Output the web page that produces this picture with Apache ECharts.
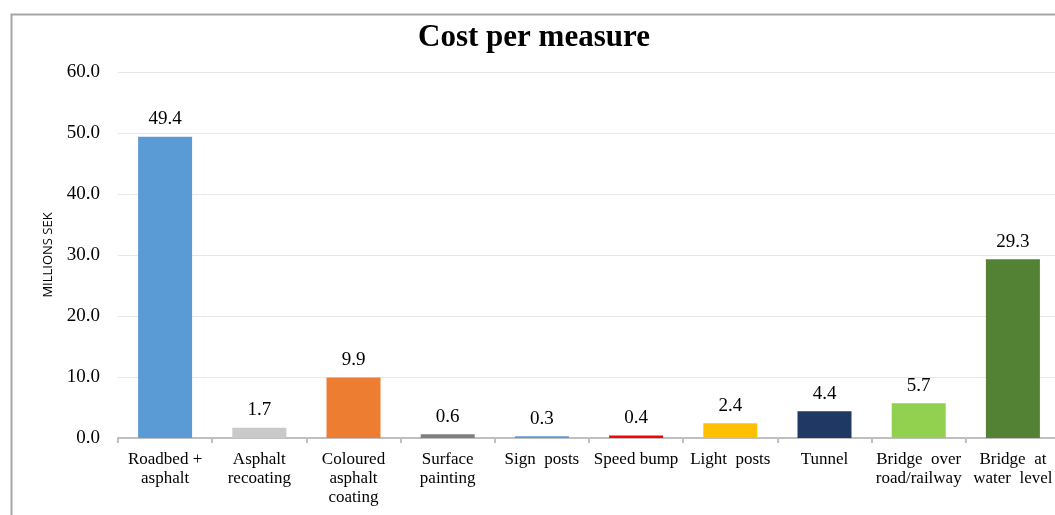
<!DOCTYPE html>
<html>
<head>
<meta charset="utf-8">
<script src="https://cdn.jsdelivr.net/npm/echarts@6/dist/echarts.min.js"></script>
<style>
html,body{margin:0;padding:0;background:#fff;overflow:hidden;width:1055px;height:515px;}
#chart{width:1062px;height:515px;}
</style>
</head>
<body>
<div id="chart"></div>
<script>
const categories = ['Roadbed +\nasphalt','Asphalt\nrecoating','Coloured\nasphalt\ncoating','Surface\npainting','Sign  posts','Speed bump','Light  posts','Tunnel','Bridge  over\nroad/railway','Bridge  at\nwater  level'];
const values = [49.4, 1.7, 9.9, 0.6, 0.3, 0.4, 2.4, 4.4, 5.7, 29.3];
const barColors = ['#5B9BD5','#C9C9C9','#ED7D31','#7F7F7F','#5B9BD5','#FF0000','#FFC000','#203864','#92D050','#548235'];
const yTicks = {min: 0, max: 60, interval: 10};

const chart = echarts.init(document.getElementById('chart'));
chart.setOption({
  animation: false,
  graphic: [{
    type: 'rect', left: 9, top: 12, silent: true,
    shape: {width: 1100, height: 600},
    style: {fill: 'none', stroke: '#A6A6A6', lineWidth: 2}
  }],
  title: {
    text: 'Cost per measure', left: 529, top: 17, textAlign: 'center',
    textStyle: {fontFamily: 'Liberation Serif', fontSize: 31, fontWeight: 'bold', color: '#000'}
  },
  grid: {left: 118, width: 942, top: 72, bottom: 77, containLabel: false},
  xAxis: {
    type: 'category', data: categories,
    axisLine: {lineStyle: {color: '#BFBFBF', width: 2}},
    axisTick: {show: true, length: 5, lineStyle: {color: '#BFBFBF', width: 2}},
    axisLabel: {interval: 0, margin: 12, fontFamily: 'Liberation Serif', fontSize: 17, color: '#000', lineHeight: 19}
  },
  yAxis: {
    type: 'value', min: yTicks.min, max: yTicks.max, interval: yTicks.interval,
    name: 'MILLIONS SEK', nameLocation: 'middle', nameGap: 63, nameRotate: 90,
    nameTextStyle: {fontFamily: 'Open Sans', fontSize: 13, color: '#000', padding: [0, 0, 0, 0]},
    axisLine: {show: false}, axisTick: {show: false},
    axisLabel: {formatter: v => v.toFixed(1), margin: 18, fontFamily: 'Liberation Serif', fontSize: 19, color: '#000'},
    splitLine: {lineStyle: {color: '#E6E6E6', width: 1}}
  },
  series: [{
    type: 'bar', barWidth: 54,
    data: values.map((v, i) => ({value: v, itemStyle: {color: barColors[i]}})),
    label: {show: true, position: 'top', distance: 8, formatter: p => p.value.toFixed(1),
      fontFamily: 'Liberation Serif', fontSize: 19, color: '#000'}
  }]
});
</script>
</body>
</html>
